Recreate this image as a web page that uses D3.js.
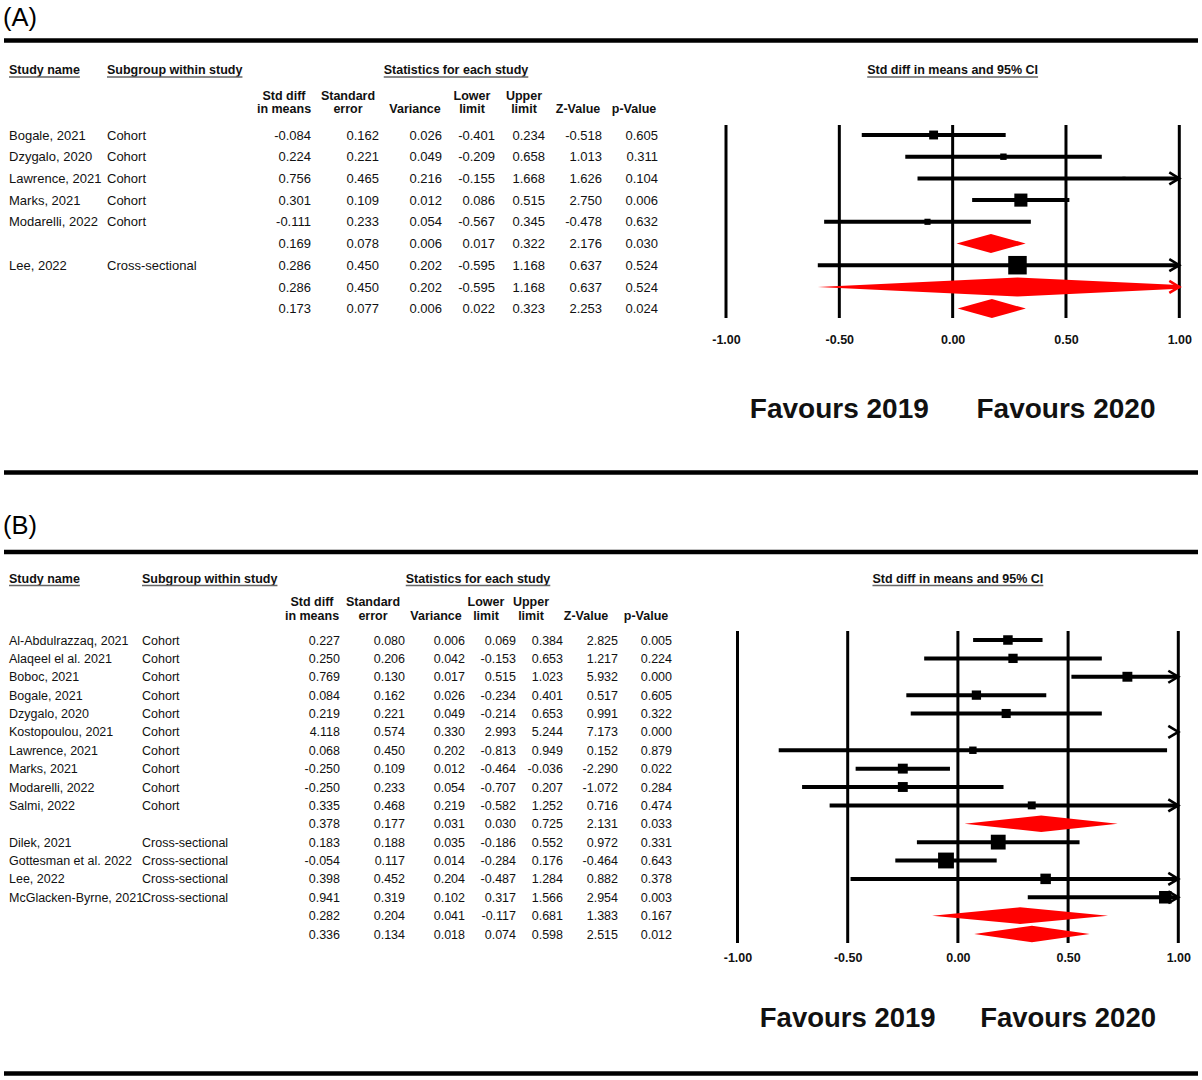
<!DOCTYPE html>
<html><head><meta charset="utf-8">
<script src="https://cdn.jsdelivr.net/npm/d3@7"></script>
<style>
body{margin:0;background:#fff}
svg{display:block}
text{font-family:"Liberation Sans",Arial,Helvetica,sans-serif}
</style>
</head><body>
<svg id="chart" width="1202" height="1080"></svg>
<script>
// ---------- shared labels ----------
const sectionHeaders = ["Study name", "Subgroup within study", "Statistics for each study", "Std diff in means and 95% CI"];
const colHeadLine1 = ["Std diff", "Standard", "", "Lower", "Upper", "", ""];
const colHeadLine2 = ["in means", "error", "Variance", "limit", "limit", "Z-Value", "p-Value"];
const axisTicks = [-1, -0.5, 0, 0.5, 1];
const favourLabels = ["Favours 2019", "Favours 2020"];

// ---------- Panel A ----------
const studiesA = ["Bogale, 2021", "Dzygalo, 2020", "Lawrence, 2021", "Marks, 2021", "Modarelli, 2022", "", "Lee, 2022", "", ""];
const subgroupA = ["Cohort", "Cohort", "Cohort", "Cohort", "Cohort", "", "Cross-sectional", "", ""];
const rowTypeA = ["study", "study", "study", "study", "study", "summary", "study", "summary", "summary"];
const stdDiffA = [-0.084, 0.224, 0.756, 0.301, -0.111, 0.169, 0.286, 0.286, 0.173];
const seA = [0.162, 0.221, 0.465, 0.109, 0.233, 0.078, 0.450, 0.450, 0.077];
const varA = [0.026, 0.049, 0.216, 0.012, 0.054, 0.006, 0.202, 0.202, 0.006];
const lowerA = [-0.401, -0.209, -0.155, 0.086, -0.567, 0.017, -0.595, -0.595, 0.022];
const upperA = [0.234, 0.658, 1.668, 0.515, 0.345, 0.322, 1.168, 1.168, 0.323];
const zA = [-0.518, 1.013, 1.626, 2.750, -0.478, 2.176, 0.637, 0.637, 2.253];
const pA = [0.605, 0.311, 0.104, 0.006, 0.632, 0.030, 0.524, 0.524, 0.024];
const weightA = [23, 12, 3, 50, 11, null, 100, null, null]; // relative weight (%) within subgroup

// ---------- Panel B ----------
const studiesB = ["Al-Abdulrazzaq, 2021", "Alaqeel el al. 2021", "Boboc, 2021", "Bogale, 2021", "Dzygalo, 2020", "Kostopoulou, 2021", "Lawrence, 2021", "Marks, 2021", "Modarelli, 2022", "Salmi, 2022", "", "Dilek, 2021", "Gottesman et al. 2022", "Lee, 2022", "McGlacken-Byrne, 2021", "", ""];
const subgroupB = ["Cohort", "Cohort", "Cohort", "Cohort", "Cohort", "Cohort", "Cohort", "Cohort", "Cohort", "Cohort", "", "Cross-sectional", "Cross-sectional", "Cross-sectional", "Cross-sectional", "", ""];
const rowTypeB = ["study", "study", "study", "study", "study", "study", "study", "study", "study", "study", "summary", "study", "study", "study", "study", "summary", "summary"];
const stdDiffB = [0.227, 0.250, 0.769, 0.084, 0.219, 4.118, 0.068, -0.250, -0.250, 0.335, 0.378, 0.183, -0.054, 0.398, 0.941, 0.282, 0.336];
const seB = [0.080, 0.206, 0.130, 0.162, 0.221, 0.574, 0.450, 0.109, 0.233, 0.468, 0.177, 0.188, 0.117, 0.452, 0.319, 0.204, 0.134];
const varB = [0.006, 0.042, 0.017, 0.026, 0.049, 0.330, 0.202, 0.012, 0.054, 0.219, 0.031, 0.035, 0.014, 0.204, 0.102, 0.041, 0.018];
const lowerB = [0.069, -0.153, 0.515, -0.234, -0.214, 2.993, -0.813, -0.464, -0.707, -0.582, 0.030, -0.186, -0.284, -0.487, 0.317, -0.117, 0.074];
const upperB = [0.384, 0.653, 1.023, 0.401, 0.653, 5.244, 0.949, -0.036, 0.207, 1.252, 0.725, 0.552, 0.176, 1.284, 1.566, 0.681, 0.598];
const zB = [2.825, 1.217, 5.932, 0.517, 0.991, 7.173, 0.152, -2.290, -1.072, 0.716, 2.131, 0.972, -0.464, 0.882, 2.954, 1.383, 2.515];
const pB = [0.005, 0.224, 0.000, 0.605, 0.322, 0.000, 0.879, 0.022, 0.284, 0.474, 0.033, 0.331, 0.643, 0.378, 0.003, 0.167, 0.012];
const weightB = [11.5, 11.0, 12.5, 11.0, 10.5, 5.0, 7.0, 12.5, 12.5, 8.0, null, 28, 32, 14, 20, null, null];

const svg = d3.select("#chart");
svg.append("rect").attr("width", 1202).attr("height", 1080).attr("fill", "#fff");

const fmt3 = v => v.toFixed(3);
const fmt2 = v => v.toFixed(2);

function drawPanel(cfg) {
  const g = svg.append("g");
  const n = cfg.studies.length;
  const cols = [cfg.stdDiff, cfg.se, cfg.variance, cfg.lower, cfg.upper, cfg.z, cfg.p];

  // panel label
  g.append("text").attr("x", 3).attr("y", cfg.labelY).attr("font-size", 25.5).attr("fill", "#000").text(cfg.label);

  // thick rules
  [cfg.topRule, cfg.bottomRule].forEach(y => {
    g.append("line").attr("x1", 4).attr("x2", 1198).attr("y1", y).attr("y2", y)
      .attr("stroke", "#000").attr("stroke-width", 4.5);
  });

  const x = d3.scaleLinear().domain([-1, 1]).range(cfg.xRange);
  const y = d3.scaleLinear().domain([0, n - 1]).range(cfg.yRange);

  // section headers (bold, underlined)
  const secPos = [[9, "start"], [cfg.subX, "start"], [cfg.statsX, "middle"], [x(0), "middle"]];
  sectionHeaders.forEach((t, i) => {
    const tx = g.append("text").attr("x", secPos[i][0]).attr("y", cfg.secY + 4.5)
      .attr("text-anchor", secPos[i][1]).attr("font-size", 12.5).attr("font-weight", "bold").attr("fill", "#111").text(t);
    const bb = tx.node().getBBox();
    g.append("line").attr("x1", bb.x).attr("x2", bb.x + bb.width)
      .attr("y1", cfg.secY + 7.5).attr("y2", cfg.secY + 7.5).attr("stroke", "#666").attr("stroke-width", 1.4);
  });

  // column headers
  colHeadLine1.forEach((t, i) => {
    if (t) g.append("text").attr("x", cfg.headX[i]).attr("y", cfg.head1Y + 4.5).attr("text-anchor", "middle")
      .attr("font-size", 12.5).attr("font-weight", "bold").attr("fill", "#111").text(t);
  });
  colHeadLine2.forEach((t, i) => {
    g.append("text").attr("x", cfg.headX[i]).attr("y", cfg.head2Y + 4.5).attr("text-anchor", "middle")
      .attr("font-size", 12.5).attr("font-weight", "bold").attr("fill", "#111").text(t);
  });

  // table rows
  for (let i = 0; i < n; i++) {
    const yy = y(i) + cfg.fontSize * 0.36;
    if (cfg.studies[i]) g.append("text").attr("x", 9).attr("y", yy).attr("font-size", cfg.fontSize).attr("fill", "#111").text(cfg.studies[i]);
    if (cfg.subgroup[i]) g.append("text").attr("x", cfg.subX).attr("y", yy).attr("font-size", cfg.fontSize).attr("fill", "#111").text(cfg.subgroup[i]);
    cols.forEach((arr, j) => {
      g.append("text").attr("x", cfg.numRight[j]).attr("y", yy).attr("text-anchor", "end")
        .attr("font-size", cfg.fontSize).attr("fill", "#111").text(fmt3(arr[i]));
    });
  }

  // gridlines
  axisTicks.forEach(t => {
    g.append("line").attr("x1", x(t)).attr("x2", x(t)).attr("y1", cfg.gridY[0]).attr("y2", cfg.gridY[1])
      .attr("stroke", "#000").attr("stroke-width", 3);
  });

  // axis labels
  const ax = d3.axisBottom(x).tickValues(axisTicks).tickFormat(fmt2).tickSize(0).tickPadding(0);
  const axg = g.append("g").attr("transform", `translate(0,${cfg.tickY})`).call(ax);
  axg.select(".domain").remove();
  axg.selectAll("text").attr("font-size", 12.5).attr("font-weight", "bold").attr("fill", "#111")
    .attr("font-family", "'Liberation Sans',Arial,sans-serif").attr("dy", "0.35em").attr("y", 0);

  const size = d3.scaleSqrt().domain([0, 100]).range([0, cfg.maxBox]);
  const chevron = (yy, color) => {
    const xe = x(1);
    g.append("path").attr("d", `M${xe - 10},${yy - 6}L${xe},${yy}L${xe - 10},${yy + 6}`)
      .attr("fill", "none").attr("stroke", color).attr("stroke-width", 2.6);
  };

  for (let i = 0; i < n; i++) {
    const yy = y(i), lo = cfg.lower[i], hi = cfg.upper[i], est = cfg.stdDiff[i];
    if (cfg.rowType[i] === "study") {
      const a = Math.max(lo, -1), b = Math.min(hi, 1);
      if (a < b) g.append("line").attr("x1", x(a)).attr("x2", x(b)).attr("y1", yy).attr("y2", yy)
        .attr("stroke", "#000").attr("stroke-width", 4);
      if (est >= -1 && est <= 1) {
        const s = size(cfg.weight[i]);
        g.append("rect").attr("x", x(est) - s / 2).attr("y", yy - s / 2).attr("width", s).attr("height", s).attr("fill", "#000");
      }
      if (hi > 1) chevron(yy, "#000");
    } else {
      const h = cfg.diamondH;
      let pts;
      if (hi > 1) {
        const h1 = h * (hi - 1) / (hi - est);
        pts = [[x(lo), yy], [x(est), yy - h], [x(1), yy - h1], [x(1), yy + h1], [x(est), yy + h]];
      } else {
        pts = [[x(lo), yy], [x(est), yy - h], [x(hi), yy], [x(est), yy + h]];
      }
      g.append("polygon").attr("points", pts.map(p => p.join(",")).join(" ")).attr("fill", "#ff0000");
      if (hi > 1) chevron(yy, "#ff0000");
    }
  }

  // favours labels
  favourLabels.forEach((t, i) => {
    g.append("text").attr("x", x(i === 0 ? -0.5 : 0.5)).attr("y", cfg.favY).attr("text-anchor", "middle")
      .attr("font-size", cfg.favSize).attr("font-weight", "bold").attr("fill", "#111").text(t);
  });
}

drawPanel({
  label: "(A)", labelY: 26, topRule: 40.5, bottomRule: 472.5,
  studies: studiesA, subgroup: subgroupA, rowType: rowTypeA,
  stdDiff: stdDiffA, se: seA, variance: varA, lower: lowerA, upper: upperA, z: zA, p: pA, weight: weightA,
  subX: 107, statsX: 456, secY: 69.5, head1Y: 95, head2Y: 108.5,
  headX: [284, 348, 415, 472, 524, 578, 634],
  numRight: [311, 379, 442, 495, 545, 602, 658],
  fontSize: 13,
  xRange: [726, 1179.3], yRange: [135, 308.6], gridY: [125, 318], tickY: 340,
  maxBox: 18.5, diamondH: 9.5, favY: 418, favSize: 28
});

drawPanel({
  label: "(B)", labelY: 534, topRule: 552, bottomRule: 1073.5,
  studies: studiesB, subgroup: subgroupB, rowType: rowTypeB,
  stdDiff: stdDiffB, se: seB, variance: varB, lower: lowerB, upper: upperB, z: zB, p: pB, weight: weightB,
  subX: 142, statsX: 478, secY: 578, head1Y: 601, head2Y: 615.5,
  headX: [312, 373, 436, 486, 531, 586, 646],
  numRight: [340, 405, 465, 516, 563, 618, 672],
  fontSize: 12.5,
  xRange: [737.5, 1178.3], yRange: [640, 934], gridY: [631, 943], tickY: 958,
  maxBox: 28, diamondH: 8.3, favY: 1026.5, favSize: 27.5
});
</script>
</body></html>
